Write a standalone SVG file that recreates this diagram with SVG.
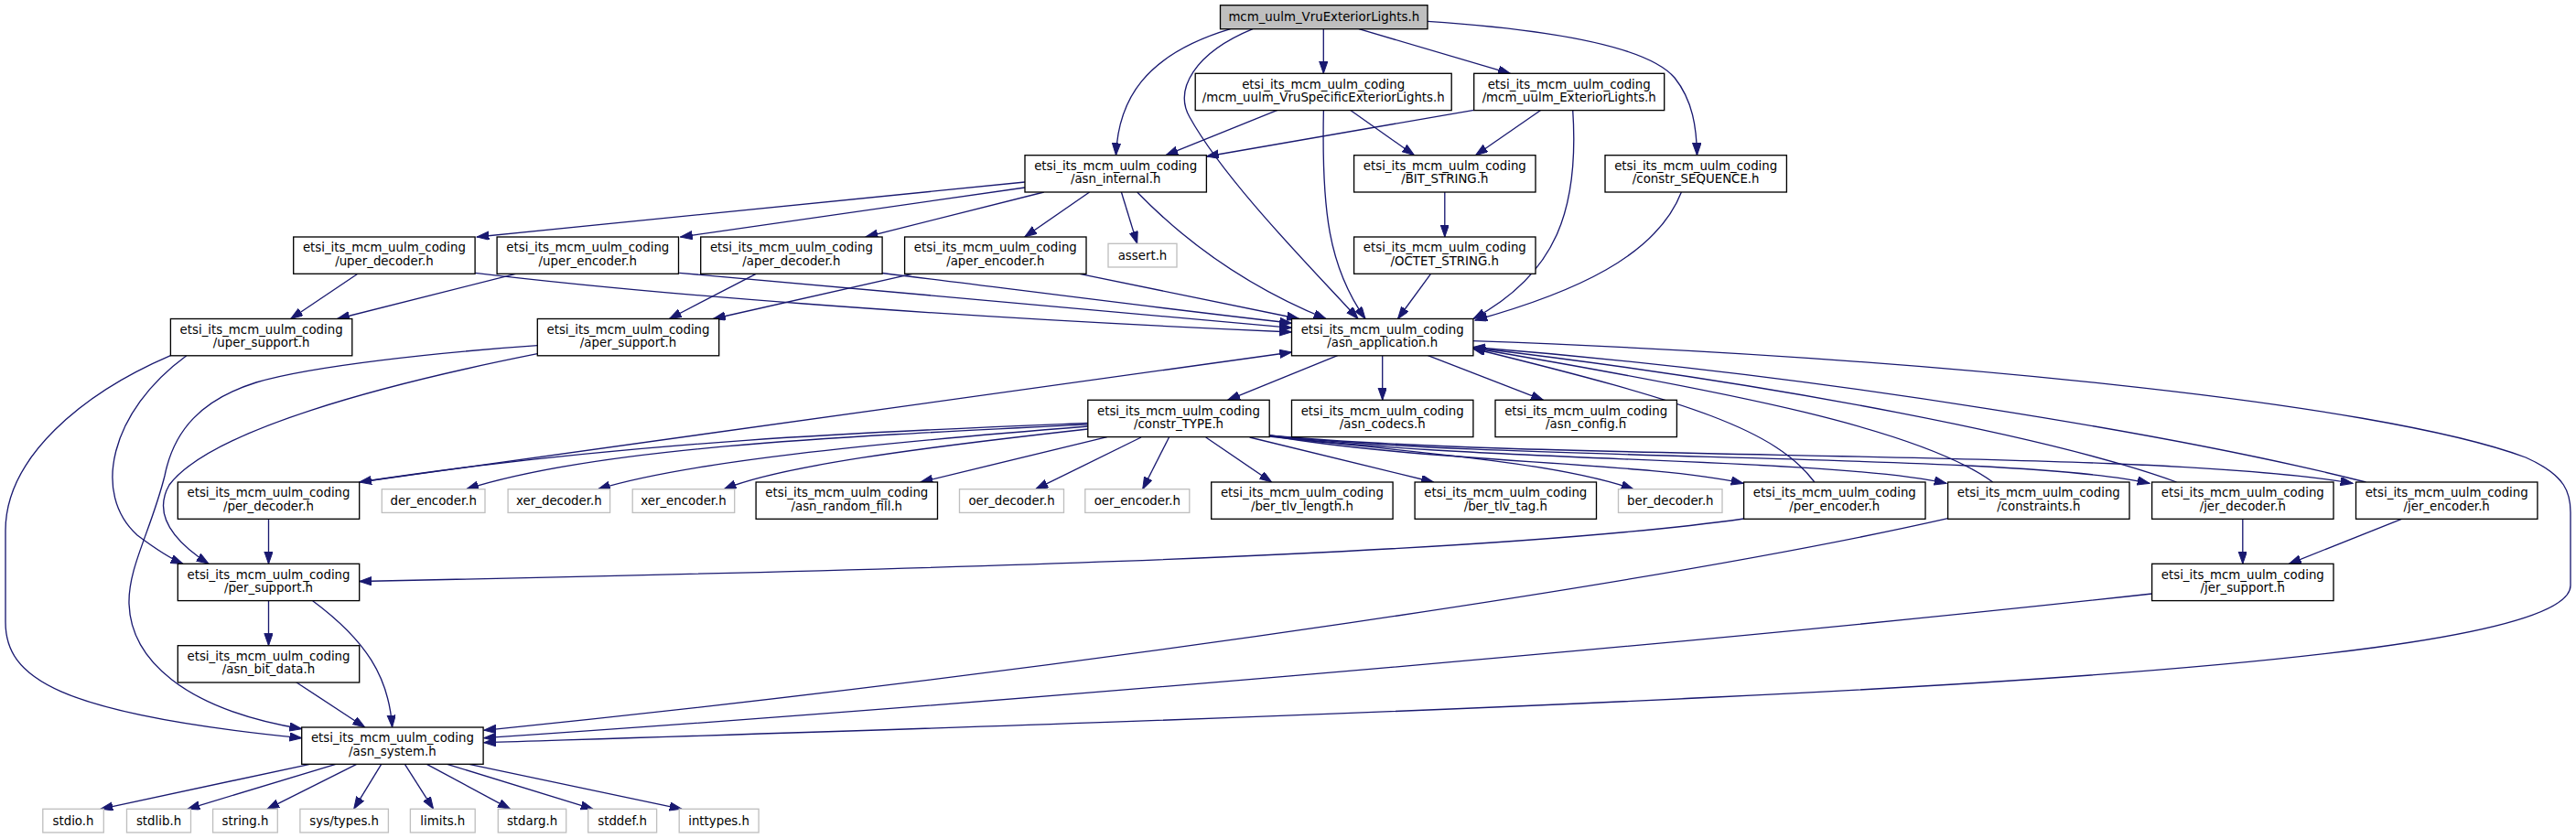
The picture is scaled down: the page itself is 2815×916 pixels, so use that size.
<svg xmlns="http://www.w3.org/2000/svg" width="2815" height="916" viewBox="0 0 2815 916">
<style>
.n rect{fill:#fff;stroke:#000;stroke-width:1.33}
.g rect{fill:#fff;stroke:#bfbfbf;stroke-width:1.33}
.r rect{fill:#bfbfbf;stroke:#000;stroke-width:1.33}
text{font-family:"DejaVu Sans","Liberation Sans",sans-serif;font-size:13.33px;text-anchor:middle;fill:#000}
#edges path{fill:none;stroke:#191970;stroke-width:1.33;marker-end:url(#a)}
</style>
<defs>
<marker id="a" markerWidth="14" markerHeight="10" refX="13.3" refY="4.65" orient="auto" markerUnits="userSpaceOnUse"><path d="M0,0 L13.3,4.65 L0,9.3 z" fill="#191970" stroke="#191970" stroke-width="1"/></marker>
</defs>
<rect width="2815" height="916" fill="#fff"/>
<g id="edges">
<path d="M1446.3,31.7 L1446.3,80.3"/>
<path d="M1485,31.7 L1650.4,80.3"/>
<path d="M1560,23.3 C1690,32 1800,50 1830,85 C1850,110 1854,140 1854.5,169.7"/>
<path d="M1344.6,31.7 C1250,60 1222,110 1219.5,169.7"/>
<path d="M1369,31.7 C1305,58 1283,98 1300,128 C1340,200 1440,300 1484,348.5"/>
<path d="M1396,120.3 L1274,169.7"/>
<path d="M1475.4,120.3 L1545.5,169.7"/>
<path d="M1446.4,120.3 C1444,230 1452,292 1492,348.5"/>
<path d="M1610.7,120.3 L1318.5,171"/>
<path d="M1684,120.3 L1612.5,169.7"/>
<path d="M1718.7,120.3 C1726,230 1700,300 1610,348.5"/>
<path d="M1837.4,210 C1810,280 1720,320 1612,350"/>
<path d="M1578.8,210 L1578.8,259"/>
<path d="M1563.5,299.3 L1527.5,348.5"/>
<path d="M1120,199 L521,259"/>
<path d="M1120,205 L743.5,259"/>
<path d="M1140.8,210 L946,259"/>
<path d="M1190.6,210 L1119.8,259"/>
<path d="M1225.4,210 L1242.7,266.3"/>
<path d="M1242.7,210 Q1330,300 1449,348.5"/>
<path d="M390.9,299.3 L317.7,348.5"/>
<path d="M563.5,299.3 L368.7,348.5"/>
<path d="M826.1,299.3 L731.4,348.5"/>
<path d="M997,299.3 L779.4,348.5"/>
<path d="M519.2,298.3 C700,320 1000,345 1411.5,363"/>
<path d="M742.2,298.3 C850,310 1100,330 1411.5,358.3"/>
<path d="M964,298.5 C1100,315 1250,335 1411.5,353.3"/>
<path d="M1179.8,299.3 L1419.6,348.5"/>
<path d="M392.7,527 L1411.5,385"/>
<path d="M1188.8,462.5 C1000,470 700,480 392.7,527"/>
<path d="M1188.8,464 C900,478 650,490 509.6,534.7"/>
<path d="M1188.8,466 C950,485 750,505 653.5,534.7"/>
<path d="M1188.8,469 C1000,490 850,510 791.3,534.7"/>
<path d="M1209.8,477.7 L1006,527"/>
<path d="M1247,478 L1131.8,534.7"/>
<path d="M1277.5,478 L1248.7,534.7"/>
<path d="M1317.7,478 L1389.6,527"/>
<path d="M1365.6,478 L1566.5,527"/>
<path d="M1387,477 C1550,495 1700,505 1785,534.7"/>
<path d="M1387,476 C1550,505 1800,505 1905,528.3"/>
<path d="M1387,476 C1600,505 2000,500 2127,528.3"/>
<path d="M1387,476 C1650,505 2200,495 2349,528.3"/>
<path d="M1387,476 C1700,505 2350,490 2571,528.3"/>
<path d="M1461.6,388.7 L1341.7,437.3"/>
<path d="M1510.7,388.7 L1510.7,437.3"/>
<path d="M1560.5,388.7 L1686.4,437.3"/>
<path d="M1609.6,372.7 C2100,390 2600,440 2760,500 C2805,520 2809,540 2809,560 L2809,640 C2809,690 2550,730 1875,762 C1400,785 900,800 528.8,811.7"/>
<path d="M1982.9,527 C1940,470 1850,440 1609.6,381"/>
<path d="M2177.7,527 C2100,470 1900,430 1609.6,380.5"/>
<path d="M2378.6,527 C2250,480 1950,420 1609.6,380"/>
<path d="M2585.4,527 C2400,480 2000,410 1609.6,379.5"/>
<path d="M1905.6,567 C1600,610 900,625 392.7,635.5"/>
<path d="M2128.6,566.7 C1850,630 1200,730 528.8,798.3"/>
<path d="M2351.6,649 C1800,710 1000,775 528.8,806.7"/>
<path d="M2450.8,567.3 L2450.8,616.3"/>
<path d="M2624.4,567.3 L2501.5,616.3"/>
<path d="M293.5,567.3 L293.5,616.3"/>
<path d="M293.5,656.7 L293.5,705.7"/>
<path d="M341.7,656.7 C400,700 425,740 428.6,795"/>
<path d="M323.7,745.7 L398.7,795"/>
<path d="M186.4,388.7 C90,430 6,500 6,580 L6,680 C6,740 60,780 329.7,806.7"/>
<path d="M203.8,388.7 C120,450 100,540 150,585 C170,600 185,610 200,616.3"/>
<path d="M587.3,386.7 C420,420 230,470 185,530 C165,565 195,595 228,616.3"/>
<path d="M587.3,377.7 C480,385 340,400 280,418 C220,437 190,470 180,520 C165,580 140,620 141,660 C143,720 200,775 329.7,796.7"/>
<path d="M338.7,835.3 L110,884.3"/>
<path d="M366.9,835.3 L205,884.3"/>
<path d="M389.7,835.3 L292,884.3"/>
<path d="M416.7,835.3 L386.7,884.3"/>
<path d="M442.4,835.3 L473.6,884.3"/>
<path d="M466.4,835.3 L557.5,884.3"/>
<path d="M488.6,835.3 L648,884.3"/>
<path d="M512.6,835.3 L745,884.3"/>
</g>
<g id="root" class="r"><rect x="1333.5" y="5.7" width="226.5" height="26"/><text x="1446.75" y="23">mcm_uulm_VruExteriorLights.h</text></g>
<g id="vru" class="n"><rect x="1306.2" y="80.3" width="280" height="40.3"/><text x="1446.2" y="96.6">etsi_its_mcm_uulm_coding</text><text x="1446.2" y="111">/mcm_uulm_VruSpecificExteriorLights.h</text></g>
<g id="ext" class="n"><rect x="1610.7" y="80.3" width="208" height="40.3"/><text x="1714.7" y="96.6">etsi_its_mcm_uulm_coding</text><text x="1714.7" y="111">/mcm_uulm_ExteriorLights.h</text></g>
<g id="asn_internal" class="n"><rect x="1120" y="169.7" width="198.4" height="40.3"/><text x="1219.2" y="186">etsi_its_mcm_uulm_coding</text><text x="1219.2" y="200.4">/asn_internal.h</text></g>
<g id="bit_string" class="n"><rect x="1479.6" y="169.7" width="198.4" height="40.3"/><text x="1578.8" y="186">etsi_its_mcm_uulm_coding</text><text x="1578.8" y="200.4">/BIT_STRING.h</text></g>
<g id="constr_sequence" class="n"><rect x="1754" y="169.7" width="198.4" height="40.3"/><text x="1853.2" y="186">etsi_its_mcm_uulm_coding</text><text x="1853.2" y="200.4">/constr_SEQUENCE.h</text></g>
<g id="uper_decoder" class="n"><rect x="320.7" y="259" width="198.4" height="40.3"/><text x="419.9" y="275.3">etsi_its_mcm_uulm_coding</text><text x="419.9" y="289.7">/uper_decoder.h</text></g>
<g id="uper_encoder" class="n"><rect x="543.1" y="259" width="198.4" height="40.3"/><text x="642.3" y="275.3">etsi_its_mcm_uulm_coding</text><text x="642.3" y="289.7">/uper_encoder.h</text></g>
<g id="aper_decoder" class="n"><rect x="765.7" y="259" width="198.4" height="40.3"/><text x="864.9" y="275.3">etsi_its_mcm_uulm_coding</text><text x="864.9" y="289.7">/aper_decoder.h</text></g>
<g id="aper_encoder" class="n"><rect x="988.6" y="259" width="198.4" height="40.3"/><text x="1087.8" y="275.3">etsi_its_mcm_uulm_coding</text><text x="1087.8" y="289.7">/aper_encoder.h</text></g>
<g id="assert" class="g"><rect x="1211" y="266.3" width="75" height="25.7"/><text x="1248.5" y="283.5">assert.h</text></g>
<g id="octet_string" class="n"><rect x="1479.6" y="259" width="198.4" height="40.3"/><text x="1578.8" y="275.3">etsi_its_mcm_uulm_coding</text><text x="1578.8" y="289.7">/OCTET_STRING.h</text></g>
<g id="uper_support" class="n"><rect x="186.4" y="348.5" width="198.4" height="40.3"/><text x="285.6" y="364.8">etsi_its_mcm_uulm_coding</text><text x="285.6" y="379.2">/uper_support.h</text></g>
<g id="aper_support" class="n"><rect x="587.3" y="348.5" width="198.4" height="40.3"/><text x="686.5" y="364.8">etsi_its_mcm_uulm_coding</text><text x="686.5" y="379.2">/aper_support.h</text></g>
<g id="asn_application" class="n"><rect x="1411.5" y="348.5" width="198.4" height="40.3"/><text x="1510.7" y="364.8">etsi_its_mcm_uulm_coding</text><text x="1510.7" y="379.2">/asn_application.h</text></g>
<g id="constr_type" class="n"><rect x="1188.8" y="437.3" width="198.4" height="40.3"/><text x="1288" y="453.6">etsi_its_mcm_uulm_coding</text><text x="1288" y="468">/constr_TYPE.h</text></g>
<g id="asn_codecs" class="n"><rect x="1411.5" y="437.3" width="198.4" height="40.3"/><text x="1510.7" y="453.6">etsi_its_mcm_uulm_coding</text><text x="1510.7" y="468">/asn_codecs.h</text></g>
<g id="asn_config" class="n"><rect x="1634" y="437.3" width="198.4" height="40.3"/><text x="1733.2" y="453.6">etsi_its_mcm_uulm_coding</text><text x="1733.2" y="468">/asn_config.h</text></g>
<g id="per_decoder" class="n"><rect x="194.3" y="527" width="198.4" height="40.3"/><text x="293.5" y="543.3">etsi_its_mcm_uulm_coding</text><text x="293.5" y="557.7">/per_decoder.h</text></g>
<g id="der_encoder" class="g"><rect x="417.3" y="534.7" width="112.7" height="25.7"/><text x="473.7" y="551.9">der_encoder.h</text></g>
<g id="xer_decoder" class="g"><rect x="555.1" y="534.7" width="111.5" height="25.7"/><text x="610.9" y="551.9">xer_decoder.h</text></g>
<g id="xer_encoder" class="g"><rect x="691.2" y="534.7" width="111.5" height="25.7"/><text x="747" y="551.9">xer_encoder.h</text></g>
<g id="asn_random_fill" class="n"><rect x="826.1" y="527" width="198.4" height="40.3"/><text x="925.3" y="543.3">etsi_its_mcm_uulm_coding</text><text x="925.3" y="557.7">/asn_random_fill.h</text></g>
<g id="oer_decoder" class="g"><rect x="1048.5" y="534.7" width="114" height="25.7"/><text x="1105.5" y="551.9">oer_decoder.h</text></g>
<g id="oer_encoder" class="g"><rect x="1185.8" y="534.7" width="114" height="25.7"/><text x="1242.8" y="551.9">oer_encoder.h</text></g>
<g id="ber_tlv_length" class="n"><rect x="1323.7" y="527" width="198.4" height="40.3"/><text x="1422.9" y="543.3">etsi_its_mcm_uulm_coding</text><text x="1422.9" y="557.7">/ber_tlv_length.h</text></g>
<g id="ber_tlv_tag" class="n"><rect x="1546.1" y="527" width="198.4" height="40.3"/><text x="1645.3" y="543.3">etsi_its_mcm_uulm_coding</text><text x="1645.3" y="557.7">/ber_tlv_tag.h</text></g>
<g id="ber_decoder" class="g"><rect x="1768.5" y="534.7" width="113.5" height="25.7"/><text x="1825.3" y="551.9">ber_decoder.h</text></g>
<g id="per_encoder" class="n"><rect x="1905.6" y="527" width="198.4" height="40.3"/><text x="2004.8" y="543.3">etsi_its_mcm_uulm_coding</text><text x="2004.8" y="557.7">/per_encoder.h</text></g>
<g id="constraints" class="n"><rect x="2128.6" y="527" width="198.4" height="40.3"/><text x="2227.8" y="543.3">etsi_its_mcm_uulm_coding</text><text x="2227.8" y="557.7">/constraints.h</text></g>
<g id="jer_decoder" class="n"><rect x="2351.6" y="527" width="198.4" height="40.3"/><text x="2450.8" y="543.3">etsi_its_mcm_uulm_coding</text><text x="2450.8" y="557.7">/jer_decoder.h</text></g>
<g id="jer_encoder" class="n"><rect x="2574.5" y="527" width="198.4" height="40.3"/><text x="2673.7" y="543.3">etsi_its_mcm_uulm_coding</text><text x="2673.7" y="557.7">/jer_encoder.h</text></g>
<g id="per_support" class="n"><rect x="194.3" y="616.3" width="198.4" height="40.3"/><text x="293.5" y="632.6">etsi_its_mcm_uulm_coding</text><text x="293.5" y="647">/per_support.h</text></g>
<g id="jer_support" class="n"><rect x="2351.6" y="616.3" width="198.4" height="40.3"/><text x="2450.8" y="632.6">etsi_its_mcm_uulm_coding</text><text x="2450.8" y="647">/jer_support.h</text></g>
<g id="asn_bit_data" class="n"><rect x="194.3" y="705.7" width="198.4" height="40.3"/><text x="293.5" y="722">etsi_its_mcm_uulm_coding</text><text x="293.5" y="736.4">/asn_bit_data.h</text></g>
<g id="asn_system" class="n"><rect x="329.7" y="795" width="198.4" height="40.3"/><text x="428.9" y="811.3">etsi_its_mcm_uulm_coding</text><text x="428.9" y="825.7">/asn_system.h</text></g>
<g id="stdio" class="g"><rect x="46.8" y="884.3" width="66.5" height="25.7"/><text x="80" y="901.5">stdio.h</text></g>
<g id="stdlib" class="g"><rect x="138.5" y="884.3" width="70" height="25.7"/><text x="173.5" y="901.5">stdlib.h</text></g>
<g id="string" class="g"><rect x="232.6" y="884.3" width="70.7" height="25.7"/><text x="268" y="901.5">string.h</text></g>
<g id="sys_types" class="g"><rect x="327.9" y="884.3" width="96.5" height="25.7"/><text x="376.2" y="901.5">sys/types.h</text></g>
<g id="limits" class="g"><rect x="448.4" y="884.3" width="70.8" height="25.7"/><text x="483.8" y="901.5">limits.h</text></g>
<g id="stdarg" class="g"><rect x="544.3" y="884.3" width="74.4" height="25.7"/><text x="581.5" y="901.5">stdarg.h</text></g>
<g id="stddef" class="g"><rect x="642.7" y="884.3" width="74.9" height="25.7"/><text x="680.1" y="901.5">stddef.h</text></g>
<g id="inttypes" class="g"><rect x="742.2" y="884.3" width="86.9" height="25.7"/><text x="785.6" y="901.5">inttypes.h</text></g>
</svg>
